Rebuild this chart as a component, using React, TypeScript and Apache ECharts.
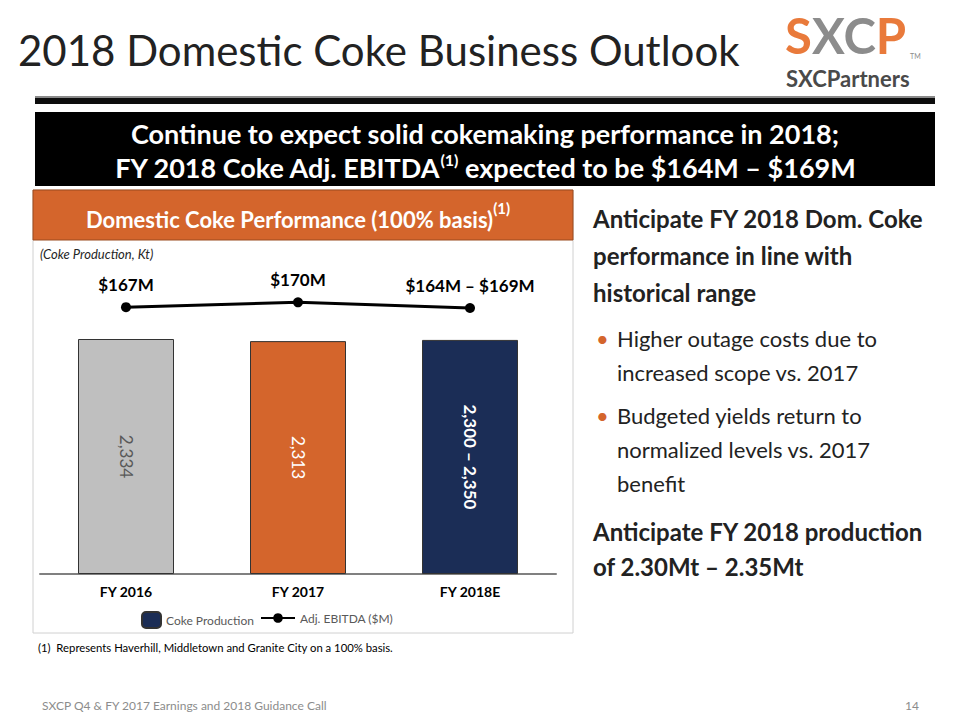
import React, { useEffect, useRef } from "react";
import * as echarts from "echarts";

const categories = ["FY 2016", "FY 2017", "FY 2018E"];
const cokeProduction = [2334, 2313, 2325];
const cokeLabels = ["2,334", "2,313", "2,300 – 2,350"];
const ebitda = [167, 170, 166.5];
const ebitdaLabels = ["$167M", "$170M", "$164M – $169M"];
const barColors = ["#BFBFBF", "#D4652C", "#1B2D56"];
const barLabelColors = ["#595959", "#FFFFFF", "#FFFFFF"];
const barLabelWeights = ["normal", "normal", "bold"];

const FONT = "Lato";
const ORANGE = "#D4652C";

export default function App() {
  const ref = useRef<HTMLDivElement>(null);
  useEffect(() => {
    if (!ref.current) return;
    const chart = echarts.init(ref.current, null, { renderer: "svg" });
    const txt = (x: number, y: number, text: string, style: any, extra: any = {}) => ({
      type: "text",
      x,
      y,
      style: { text, fontFamily: FONT, ...style },
      ...extra,
    });
    const rightLines: any[] = [];
    const boldL = { fontSize: 24, fontWeight: "bold", fill: "#222" };
    const regL = { fontSize: 22, fill: "#222" };
    [
      ["Anticipate FY 2018 Dom. Coke", 218],
      ["performance in line with", 255],
      ["historical range", 292],
    ].forEach(([t, y]) => rightLines.push(txt(593, y as number, t as string, { ...boldL, verticalAlign: "middle" })));
    [
      ["Higher outage costs due to", 338, true],
      ["increased scope vs. 2017", 372, false],
      ["Budgeted yields return to", 415, true],
      ["normalized levels vs. 2017", 449, false],
      ["benefit", 483, false],
    ].forEach(([t, y, b]) => {
      if (b) rightLines.push(txt(596, y as number, "•", { fontSize: 22, fill: ORANGE, verticalAlign: "middle" }));
      rightLines.push(txt(617, y as number, t as string, { ...regL, verticalAlign: "middle" }));
    });
    [
      ["Anticipate FY 2018 production", 531],
      ["of 2.30Mt – 2.35Mt", 566],
    ].forEach(([t, y]) => rightLines.push(txt(593, y as number, t as string, { ...boldL, verticalAlign: "middle" })));

    const option: any = {
      animation: false,
      textStyle: { fontFamily: FONT },
      graphic: [
        txt(18, 50, "2018 Domestic Coke Business Outlook", {
          fontSize: 42,
          fill: "#222",
          verticalAlign: "middle",
        }),
        {
          type: "text",
          x: 785,
          y: 35,
          style: {
            text: "{o|S}{g|XC}{o|P}",
            fontFamily: FONT,
            verticalAlign: "middle",
            rich: {
              o: { fontSize: 49, fontWeight: "bold", fill: "#E97A3B", fontFamily: FONT },
              g: { fontSize: 49, fontWeight: "bold", fill: "#8C8C8C", fontFamily: FONT },
            },
          },
        },
        txt(910, 56, "TM", { fontSize: 7, fill: "#8C8C8C", verticalAlign: "middle" }),
        txt(786, 78, "SXCPartners", { fontSize: 22, fontWeight: "bold", fill: "#4A4A4A", verticalAlign: "middle" }),
        { type: "rect", shape: { x: 35, y: 96, width: 900, height: 3 }, style: { fill: "#8a8a8a" } },
        { type: "rect", shape: { x: 35, y: 98, width: 900, height: 6 }, style: { fill: "#0d0d0d" } },
        { type: "rect", shape: { x: 35, y: 112, width: 900, height: 74 }, style: { fill: "#000" } },
        txt(485, 133, "Continue to expect solid cokemaking performance in 2018;", {
          fontSize: 27,
          fontWeight: "bold",
          fill: "#fff",
          align: "center",
          verticalAlign: "middle",
          lineHeight: 28,
        }),
        {
          type: "text",
          x: 485,
          y: 166,
          style: {
            text: "{m|FY 2018 Coke Adj. EBITDA}{s|(1)}{m| expected to be $164M – $169M}",
            fontFamily: FONT,
            align: "center",
            verticalAlign: "middle",
            rich: {
              m: { fontSize: 27, fontWeight: "bold", fill: "#fff", fontFamily: FONT, lineHeight: 30, verticalAlign: "bottom" },
              s: { fontSize: 16, fontWeight: "bold", fill: "#fff", fontFamily: FONT, lineHeight: 30, verticalAlign: "top" },
            },
          },
        },
        { type: "rect", shape: { x: 33, y: 190, width: 540, height: 443 }, style: { fill: "none", stroke: "#D0D0D0", lineWidth: 1 } },
        { type: "rect", shape: { x: 33, y: 190, width: 540, height: 50 }, style: { fill: ORANGE, stroke: "#9A4A1E", lineWidth: 1 } },
        {
          type: "text",
          x: 298,
          y: 215,
          style: {
            text: "{m|Domestic Coke Performance (100% basis)}{s|(1)}",
            fontFamily: FONT,
            align: "center",
            verticalAlign: "middle",
            rich: {
              m: { fontSize: 22, fontWeight: "bold", fill: "#fff", fontFamily: FONT, lineHeight: 30, verticalAlign: "bottom" },
              s: { fontSize: 15, fontWeight: "bold", fill: "#fff", fontFamily: FONT, lineHeight: 30, verticalAlign: "top" },
            },
          },
        },
        txt(40, 254, "(Coke Production, Kt)", { fontSize: 13, fontStyle: "italic", fill: "#262626", verticalAlign: "middle" }),
        txt(38, 647, "(1)  Represents Haverhill, Middletown and Granite City on a 100% basis.", {
          fontSize: 11.3,
          fill: "#000",
          verticalAlign: "middle",
        }),
        txt(42, 705, "SXCP Q4 & FY 2017 Earnings and 2018 Guidance Call", { fontSize: 12, fill: "#8C8C8C", verticalAlign: "middle" }),
        txt(905, 705, "14", { fontSize: 12, fill: "#8C8C8C", verticalAlign: "middle" }),
        ...rightLines,
      ],
      legend: [
        {
          data: ["Coke Production"],
          left: 136,
          top: 606,
          itemWidth: 19,
          itemHeight: 16,
          itemGap: 4,
          textStyle: { fontSize: 12, color: "#595959", fontFamily: FONT },
        },
        {
          data: ["Adj. EBITDA ($M)"],
          left: 255,
          top: 607,
          itemWidth: 34,
          itemHeight: 12,
          textStyle: { fontSize: 12, color: "#595959", fontFamily: FONT },
        },
      ],
      grid: { left: 40, right: 404, top: 280, bottom: 146 },
      xAxis: {
        type: "category",
        data: categories,
        axisLine: { lineStyle: { color: "#808080", width: 2 } },
        axisTick: { show: false },
        axisLabel: { fontSize: 14, fontWeight: "bold", color: "#000", margin: 10, fontFamily: FONT },
      },
      yAxis: [
        { type: "value", min: 0, max: 2920, show: false, splitLine: { show: false } },
        { type: "value", min: 0, max: 184, show: false, splitLine: { show: false } },
      ],
      series: [
        {
          name: "Coke Production",
          type: "bar",
          barWidth: 96,
          itemStyle: { color: "#1B2D56", borderColor: "#333", borderWidth: 1 },
          data: cokeProduction.map((v, i) => ({
            value: v,
            itemStyle: { color: barColors[i], borderColor: "#333", borderWidth: 1 },
            label: {
              show: true,
              position: "inside",
              rotate: -90,
              formatter: cokeLabels[i],
              color: barLabelColors[i],
              fontWeight: barLabelWeights[i],
              fontSize: 17,
              fontFamily: FONT,
            },
          })),
        },
        {
          name: "Adj. EBITDA ($M)",
          type: "line",
          yAxisIndex: 1,
          data: ebitda,
          symbol: "circle",
          symbolSize: 10,
          lineStyle: { color: "#000", width: 3 },
          itemStyle: { color: "#000" },
          label: {
            show: true,
            position: "top",
            distance: 9,
            formatter: (p: any) => ebitdaLabels[p.dataIndex],
            fontSize: 17,
            fontWeight: "bold",
            color: "#000",
            fontFamily: FONT,
          },
        },
      ],
    };
    chart.setOption(option);
    return () => chart.dispose();
  }, []);
  return (
    <div
      ref={ref}
      style={{ position: "fixed", left: 0, top: 0, width: 960, height: 720, background: "#fff" }}
    />
  );
}
